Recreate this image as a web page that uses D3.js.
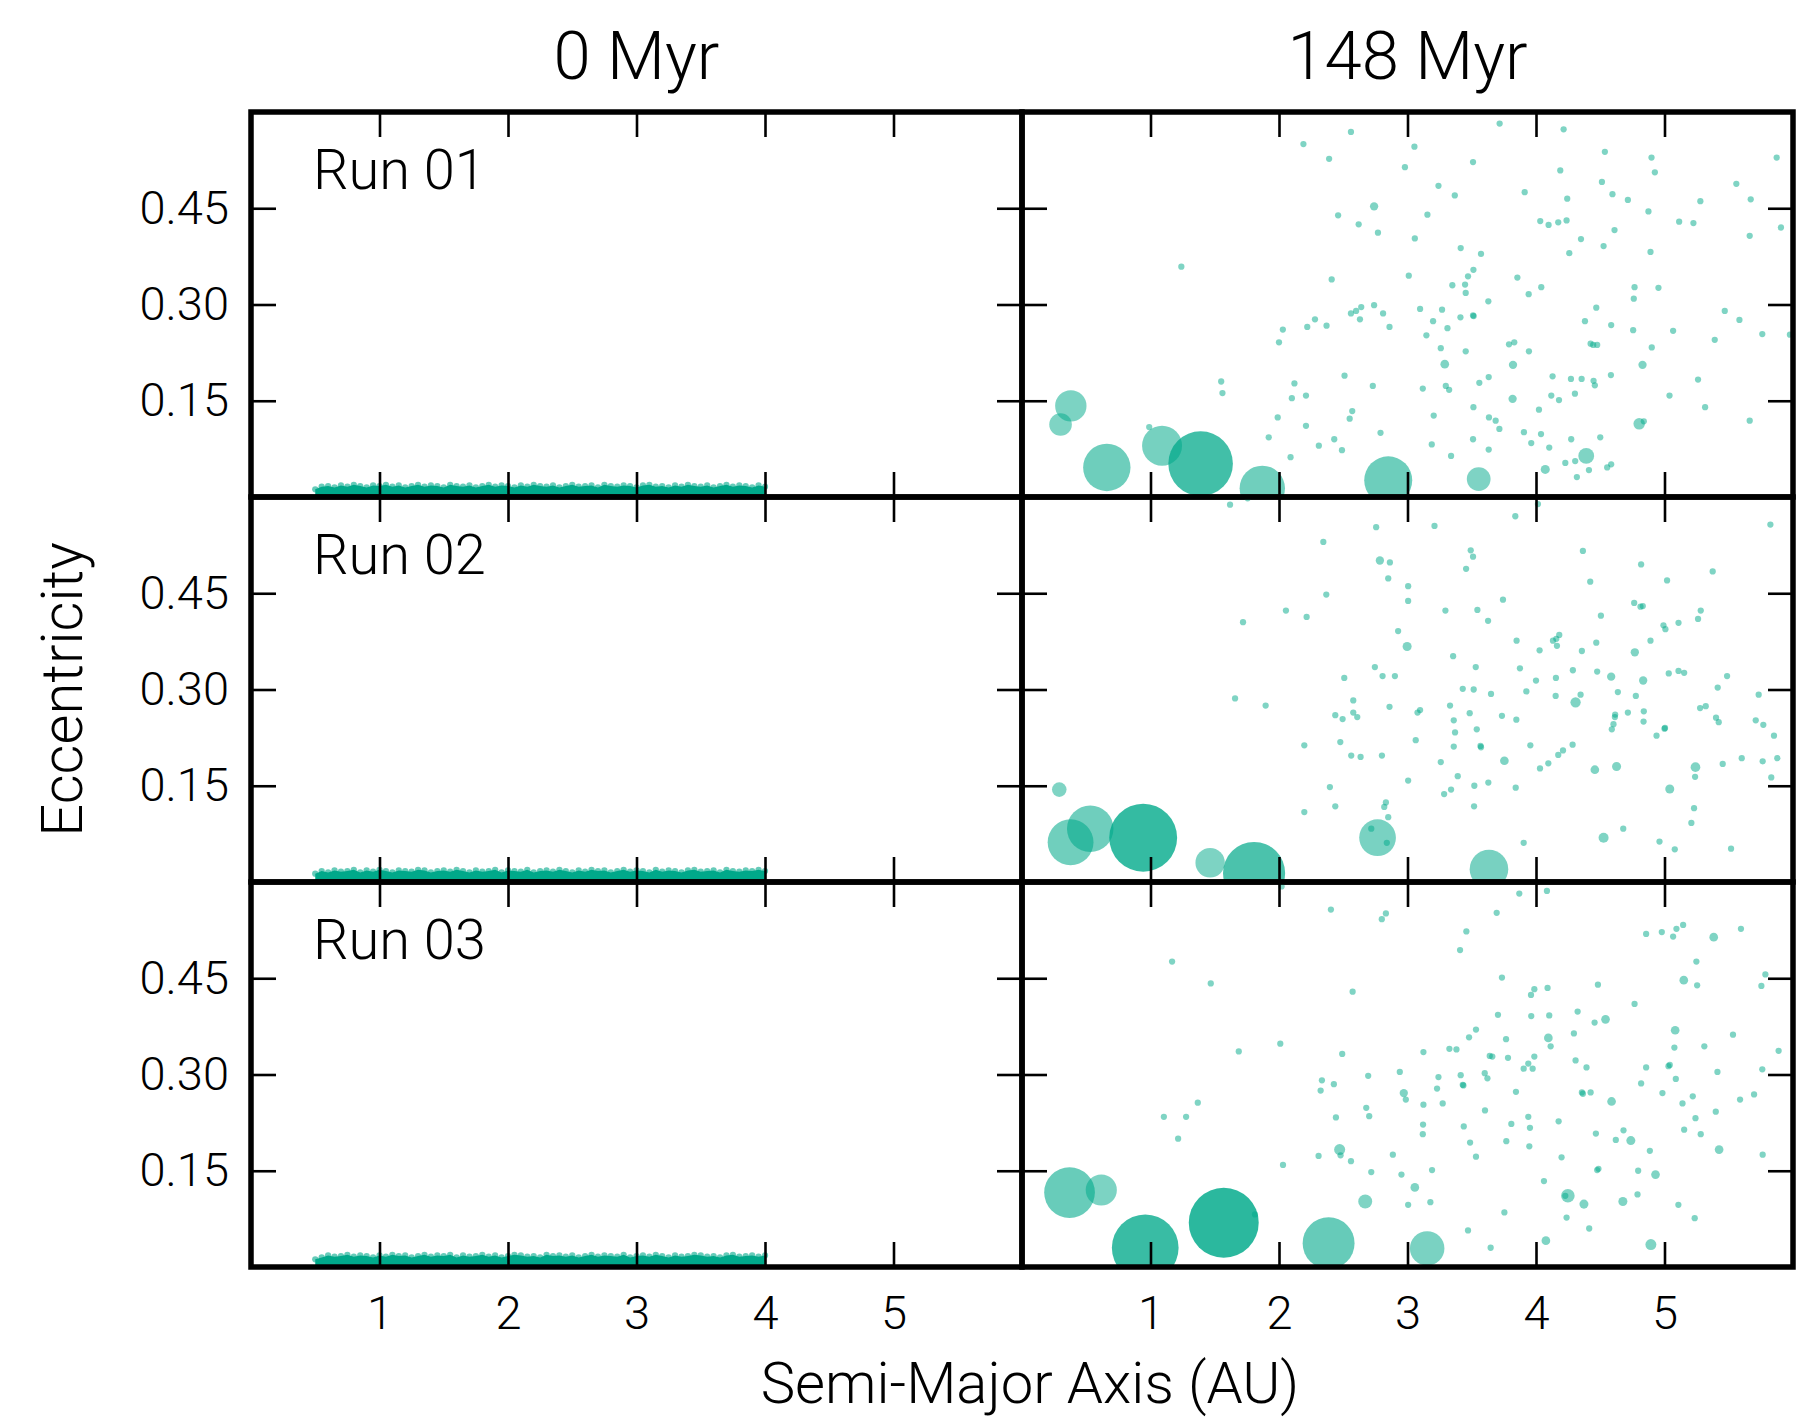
<!DOCTYPE html>
<html>
<head>
<meta charset="utf-8">
<script src="https://cdn.jsdelivr.net/npm/d3@7"></script>
<style>
  html, body { margin: 0; padding: 0; background: #fff; }
  svg text { font-family: Roboto, "Liberation Sans", sans-serif; font-weight: 300; fill: #000; }
</style>
</head>
<body>
<svg id="chart" width="1815" height="1419"></svg>
<script>
// ---- axis settings ----
const timeLabels = ["0 Myr", "148 Myr"];
const runLabels = ["Run 01", "Run 02", "Run 03"];
const aDomain = [0, 6];
const eDomain = [0, 0.6];
const aTicks = [1, 2, 3, 4, 5];
const eTicks = [0.15, 0.30, 0.45];

// ---- initial planetesimal disk (0 Myr): upper envelope of eccentricity along a ----
const initialA = [0.50,0.55,0.60,0.65,0.70,0.75,0.80,0.85,0.90,0.95,1.00,1.05,1.10,1.15,1.20,1.25,1.30,1.35,1.40,1.45,
  1.50,1.55,1.60,1.65,1.70,1.75,1.80,1.85,1.90,1.95,2.00,2.05,2.10,2.15,2.20,2.25,2.30,2.35,2.40,2.45,
  2.50,2.55,2.60,2.65,2.70,2.75,2.80,2.85,2.90,2.95,3.00,3.05,3.10,3.15,3.20,3.25,3.30,3.35,3.40,3.45,
  3.50,3.55,3.60,3.65,3.70,3.75,3.80,3.85,3.90,3.95,4.00];
const run01InitialE = [0.012,0.016,0.017,0.015,0.018,0.016,0.019,0.017,0.015,0.018,
  0.017,0.019,0.016,0.018,0.015,0.017,0.019,0.016,0.018,0.017,
  0.015,0.019,0.017,0.016,0.018,0.015,0.017,0.019,0.016,0.018,
  0.017,0.015,0.018,0.016,0.019,0.017,0.016,0.018,0.015,0.017,
  0.019,0.016,0.017,0.018,0.015,0.019,0.017,0.016,0.018,0.017,
  0.015,0.018,0.019,0.016,0.017,0.015,0.018,0.016,0.019,0.017,
  0.016,0.018,0.015,0.017,0.019,0.016,0.018,0.017,0.015,0.018,0.016];
const run02InitialE = [0.013,0.017,0.015,0.018,0.016,0.017,0.019,0.015,0.018,0.016,
  0.019,0.017,0.015,0.018,0.017,0.016,0.019,0.018,0.015,0.017,
  0.018,0.016,0.019,0.017,0.015,0.018,0.016,0.017,0.019,0.015,
  0.018,0.017,0.016,0.019,0.015,0.017,0.018,0.016,0.019,0.017,
  0.015,0.018,0.016,0.019,0.017,0.018,0.015,0.017,0.019,0.016,
  0.018,0.017,0.015,0.019,0.016,0.018,0.017,0.015,0.018,0.019,
  0.016,0.017,0.018,0.015,0.019,0.017,0.016,0.018,0.017,0.019,0.017];
const run03InitialE = [0.012,0.015,0.018,0.016,0.017,0.019,0.016,0.018,0.017,0.015,
  0.018,0.016,0.019,0.017,0.018,0.015,0.017,0.019,0.016,0.018,
  0.017,0.019,0.015,0.018,0.016,0.017,0.019,0.016,0.018,0.015,
  0.017,0.019,0.018,0.016,0.017,0.015,0.019,0.017,0.018,0.016,
  0.018,0.015,0.017,0.019,0.016,0.018,0.017,0.016,0.019,0.015,
  0.017,0.018,0.016,0.019,0.017,0.015,0.018,0.016,0.017,0.019,
  0.018,0.016,0.017,0.015,0.018,0.019,0.016,0.017,0.018,0.016,0.018];

// ---- bodies at 148 Myr ----
// mass of a single planetesimal (Earth masses)
const planetesimalMass = 0.0125;

// embryos / grown bodies: [a (AU), e, mass (Earth masses)]
const run01Embryos = [
  [0.38,0.142,0.314],[0.30,0.113,0.163],[0.66,0.046,0.716],[1.09,0.080,0.51],[1.39,0.052,1.33],
  [1.87,0.0135,0.657],[2.85,0.026,0.735],
  [2.74,0.453,0.022],[3.29,0.207,0.024],[3.821,0.206,0.022],[4.829,0.206,0.022],[3.818,0.153,0.022],
  [4.803,0.114,0.042],[4.391,0.064,0.08],[4.072,0.043,0.026],[3.554,0.028,0.18]
];
const run02Embryos = [
  [0.29,0.144,0.068],[0.531,0.083,0.69],[0.378,0.062,0.67],[0.943,0.069,1.47],[1.464,0.030,0.275],
  [1.806,0.014,1.23],[2.767,0.069,0.43],[3.634,0.020,0.475],
  [2.785,0.501,0.022],[2.997,0.367,0.026],[4.769,0.358,0.022],[4.585,0.320,0.022],[4.834,0.314,0.022],
  [4.308,0.280,0.034],[3.754,0.189,0.024],[4.458,0.175,0.024],[4.627,0.180,0.026],[5.241,0.179,0.03],
  [5.041,0.145,0.026],[4.526,0.069,0.032]
];
const run03Embryos = [
  [0.37,0.116,0.82],[0.617,0.120,0.31],[0.959,0.030,1.42],[1.57,0.069,1.56],[2.386,0.037,0.86],
  [3.153,0.029,0.38],
  [2.472,0.183,0.039],[2.971,0.271,0.022],[2.671,0.102,0.062],[5.383,0.514,0.024],[5.15,0.447,0.024],
  [4.541,0.386,0.024],[5.083,0.369,0.024],[4.096,0.357,0.024],[4.588,0.258,0.024],[4.738,0.197,0.026],
  [5.425,0.183,0.024],[4.93,0.144,0.024],[3.057,0.124,0.024],[4.248,0.111,0.059],[4.373,0.098,0.026],
  [4.676,0.102,0.026],[4.077,0.041,0.024],[4.894,0.035,0.038]
];

// surviving planetesimals: [a (AU), e]
const run01Planetesimals = [
  [2.56,0.569],[2.19,0.550],[2.39,0.527],[2.98,0.514],[2.46,0.439],[2.62,0.425],[2.77,0.412],[1.24,0.359],
  [2.41,0.339],[3.01,0.345],[2.74,0.299],[2.64,0.296],[2.60,0.290],[2.56,0.286],[2.63,0.277],[2.81,0.286],
  [2.28,0.277],[2.22,0.265],[2.37,0.267],[2.86,0.265],[2.03,0.261],[2.00,0.241],[2.51,0.189],[1.55,0.180],
  [2.73,0.173],[2.12,0.177],[1.56,0.162],[2.10,0.154],[2.21,0.158],[2.57,0.134],[2.55,0.122],[1.99,0.124],
  [2.21,0.111],[0.99,0.109],[2.79,0.100],[1.92,0.093],[2.43,0.090],[2.31,0.080],[2.49,0.073],[2.09,0.062],
  [3.717,0.582],[4.215,0.573],[3.054,0.546],[3.51,0.522],[4.536,0.538],[4.899,0.529],[5.873,0.529],[4.189,0.509],
  [4.925,0.506],[4.513,0.491],[3.241,0.485],[3.368,0.470],[3.912,0.475],[4.243,0.465],[4.595,0.472],[4.715,0.463],
  [5.559,0.488],[5.671,0.464],[5.279,0.461],[4.875,0.445],[3.155,0.440],[4.033,0.430],[4.098,0.424],[4.173,0.428],
  [4.238,0.431],[4.611,0.416],[5.114,0.429],[5.225,0.427],[5.906,0.420],[5.663,0.407],[3.057,0.403],[4.35,0.402],
  [4.526,0.391],[3.414,0.388],[3.572,0.379],[4.259,0.380],[4.891,0.382],[3.513,0.354],[3.471,0.344],[3.349,0.330],
  [3.448,0.331],[3.453,0.318],[3.855,0.342],[4.041,0.327],[3.943,0.316],[4.767,0.327],[4.953,0.326],[4.761,0.309],
  [3.629,0.305],[4.469,0.295],[5.469,0.290],[5.583,0.276],[3.098,0.293],[3.269,0.292],[3.510,0.283],[3.515,0.282],
  [3.412,0.280],[3.199,0.274],[3.311,0.263],[3.147,0.252],[4.381,0.274],[4.585,0.268],[4.756,0.260],[5.067,0.259],
  [5.761,0.254],[5.976,0.253],[5.391,0.245],[3.79,0.238],[3.831,0.241],[3.945,0.227],[4.425,0.239],[4.445,0.237],
  [4.476,0.237],[4.901,0.233],[3.259,0.232],[3.453,0.227],[3.632,0.187],[3.559,0.178],[4.129,0.188],[4.272,0.184],
  [4.355,0.184],[4.448,0.181],[4.458,0.174],[4.583,0.190],[3.119,0.169],[3.298,0.173],[3.324,0.167],[5.261,0.183],
  [5.039,0.158],[4.119,0.158],[4.179,0.151],[4.303,0.161],[3.513,0.140],[4.023,0.136],[5.316,0.140],[3.204,0.127],
  [3.634,0.124],[3.686,0.119],[3.715,0.106],[4.839,0.118],[5.663,0.119],[3.906,0.101],[4.039,0.098],[3.963,0.084],
  [4.274,0.090],[4.50,0.093],[3.189,0.082],[3.51,0.090],[3.632,0.074],[4.103,0.077],[3.339,0.064],[4.228,0.053],
  [4.305,0.056],[4.585,0.051],[4.554,0.046],[4.412,0.042],[4.318,0.031]
];
const run02Planetesimals = [
  [1.619,0.588],[1.756,0.598],[2.756,0.553],[2.345,0.530],[2.863,0.498],[2.85,0.473],[3.005,0.461],[3.005,0.438],
  [2.368,0.448],[2.054,0.423],[2.215,0.413],[1.72,0.405],[2.927,0.391],[2.746,0.335],[2.806,0.321],[2.902,0.321],
  [2.508,0.318],[1.658,0.286],[1.896,0.275],[2.578,0.283],[2.578,0.264],[2.609,0.257],[2.438,0.260],[2.495,0.254],
  [2.86,0.273],[2.197,0.213],[2.477,0.218],[2.562,0.197],[2.635,0.195],[2.801,0.197],[3.005,0.158],[2.396,0.148],
  [2.438,0.118],[2.832,0.124],[2.819,0.117],[2.197,0.109],[2.85,0.101],[2.718,0.083],[2.839,0.061],
  [4.015,0.589],[3.839,0.570],[3.21,0.555],[5.824,0.557],[3.492,0.517],[3.51,0.507],[3.456,0.488],[4.365,0.516],
  [4.818,0.495],[5.375,0.484],[4.422,0.468],[5.02,0.470],[3.743,0.440],[3.295,0.423],[3.544,0.424],[3.627,0.407],
  [4.505,0.415],[4.764,0.435],[4.813,0.429],[4.831,0.430],[5.282,0.423],[5.261,0.410],[4.992,0.400],[5.007,0.394],
  [5.109,0.404],[4.891,0.376],[3.849,0.376],[4.132,0.376],[4.158,0.379],[4.181,0.385],[4.163,0.368],[4.028,0.361],
  [4.357,0.360],[4.469,0.373],[3.355,0.352],[3.531,0.335],[3.875,0.333],[4.287,0.330],[4.476,0.328],[5.033,0.325],
  [5.109,0.329],[5.153,0.326],[5.487,0.321],[4.155,0.318],[4.00,0.314],[3.43,0.301],[3.515,0.300],[3.65,0.293],
  [3.925,0.297],[4.153,0.290],[4.347,0.292],[4.637,0.296],[4.777,0.290],[5.414,0.303],[5.733,0.292],[3.331,0.275],
  [3.078,0.264],[3.098,0.268],[3.484,0.263],[3.735,0.259],[3.847,0.253],[3.36,0.252],[4.616,0.261],[4.614,0.257],
  [4.603,0.246],[4.59,0.238],[4.715,0.264],[4.839,0.266],[4.837,0.250],[5.277,0.271],[5.321,0.274],[5.401,0.256],
  [5.422,0.249],[5.71,0.252],[5.769,0.245],[5.852,0.228],[5.0,0.239],[5.004,0.240],[4.938,0.228],[3.37,0.233],
  [3.539,0.238],[3.064,0.221],[3.36,0.211],[3.568,0.212],[3.572,0.210],[3.956,0.213],[4.285,0.214],[4.21,0.205],
  [4.173,0.198],[3.259,0.187],[4.096,0.185],[4.031,0.177],[5.238,0.164],[5.453,0.184],[5.601,0.193],[5.764,0.188],
  [5.878,0.193],[5.831,0.163],[3.391,0.165],[3.52,0.150],[3.629,0.155],[3.339,0.144],[3.285,0.137],[3.842,0.147],
  [3.518,0.118],[5.23,0.115],[5.209,0.092],[4.679,0.083],[3.904,0.061],[4.961,0.063],[5.08,0.051],[5.518,0.052]
];
const run03Planetesimals = [
  [2.02,0.593],[2.404,0.557],[2.832,0.551],[2.80,0.542],[1.168,0.476],[1.469,0.442],[2.573,0.429],[2.01,0.348],
  [1.687,0.336],[2.492,0.332],[2.94,0.304],[2.694,0.298],[2.334,0.291],[2.427,0.285],[2.324,0.275],[2.987,0.261],
  [1.368,0.256],[1.104,0.234],[1.277,0.234],[2.679,0.248],[2.702,0.235],[2.443,0.233],[1.215,0.200],[2.479,0.174],
  [2.308,0.173],[2.56,0.165],[2.886,0.175],[2.031,0.159],[2.718,0.148],[2.953,0.144],[3.005,0.097],[1.813,0.082],
  [4.085,0.586],[3.87,0.582],[3.694,0.552],[3.458,0.523],[3.409,0.494],[4.857,0.519],[4.979,0.522],[5.067,0.515],
  [5.093,0.527],[5.145,0.533],[5.595,0.527],[5.248,0.476],[5.785,0.456],[5.254,0.439],[5.754,0.438],[3.735,0.451],
  [3.987,0.433],[3.961,0.424],[4.09,0.435],[4.482,0.440],[4.767,0.410],[3.704,0.393],[3.963,0.391],[4.103,0.392],
  [4.324,0.398],[4.456,0.381],[5.533,0.362],[3.533,0.370],[3.479,0.358],[3.767,0.355],[4.114,0.344],[4.295,0.364],
  [3.124,0.335],[3.326,0.340],[3.381,0.339],[3.64,0.329],[3.66,0.328],[3.782,0.326],[3.987,0.328],[3.94,0.317],
  [3.904,0.309],[3.974,0.309],[4.308,0.322],[4.393,0.311],[5.077,0.342],[5.31,0.344],[5.888,0.337],[5.761,0.308],
  [5.412,0.304],[4.857,0.311],[5.031,0.313],[5.041,0.315],[5.088,0.293],[4.818,0.286],[3.241,0.296],[3.414,0.299],
  [3.601,0.302],[3.622,0.294],[3.435,0.283],[3.430,0.284],[3.23,0.278],[3.844,0.273],[4.357,0.272],[4.365,0.270],
  [4.425,0.272],[4.984,0.271],[5.22,0.266],[5.14,0.255],[5.588,0.261],[5.697,0.269],[3.124,0.253],[3.274,0.255],
  [3.603,0.244],[5.399,0.242],[5.241,0.232],[3.94,0.234],[3.121,0.222],[3.438,0.219],[3.808,0.223],[3.953,0.217],
  [4.176,0.227],[3.119,0.207],[4.466,0.208],[4.681,0.213],[5.153,0.214],[5.282,0.207],[3.487,0.194],[3.769,0.196],
  [3.948,0.188],[4.621,0.198],[4.886,0.181],[5.764,0.175],[3.533,0.172],[4.199,0.171],[3.191,0.151],[4.476,0.151],
  [4.486,0.153],[4.795,0.150],[4.062,0.134],[3.178,0.101],[3.754,0.085],[4.228,0.111],[4.79,0.113],[5.108,0.097],
  [5.235,0.076],[4.238,0.077],[4.414,0.060],[3.471,0.057],[3.647,0.030]
];

const initialByRun = [run01InitialE, run02InitialE, run03InitialE];
const embryosByRun = [run01Embryos, run02Embryos, run03Embryos];
const planetesimalsByRun = [run01Planetesimals, run02Planetesimals, run03Planetesimals];

// ---- layout ----
const plotLeft = 251, plotTop = 112;
const colW = 771, rowH = 385;
const teal = "#00a98a";

const svg = d3.select("#chart");

const x = d3.scaleLinear().domain(aDomain).range([0, colW]);
const y = d3.scaleLinear().domain(eDomain).range([rowH, 0]);
// marker area proportional to mass
const radius = d3.scaleSqrt().domain([0, 1]).range([0, 28]);
// heavier bodies drawn more opaque
const alpha = d3.scalePow().exponent(2).domain([0, 1.6]).range([0.5, 0.85]).clamp(true);

const band = d3.area()
  .x(d => x(d.a))
  .y0(y(0))
  .y1(d => y(d.e));

runLabels.forEach((runLabel, i) => {
  timeLabels.forEach((timeLabel, j) => {
    const g = svg.append("g")
      .attr("transform", `translate(${plotLeft + j * colW},${plotTop + i * rowH})`);

    const clipId = `clip-${i}-${j}`;
    g.append("clipPath").attr("id", clipId)
      .append("rect").attr("width", colW).attr("height", rowH);
    const plot = g.append("g").attr("clip-path", `url(#${clipId})`);

    if (j === 0) {
      const disk = initialA.map((a, k) => ({ a, e: initialByRun[i][k] }));
      plot.append("path").datum(disk)
        .attr("d", band)
        .attr("fill", teal);
      plot.selectAll("circle.disk").data(disk).join("circle")
        .attr("class", "disk")
        .attr("cx", d => x(d.a))
        .attr("cy", d => y(d.e))
        .attr("r", radius(planetesimalMass))
        .attr("fill", teal)
        .attr("fill-opacity", 0.6);
    } else {
      const bodies = planetesimalsByRun[i].map(([a, e]) => ({ a, e, m: planetesimalMass }))
        .concat(embryosByRun[i].map(([a, e, m]) => ({ a, e, m })));
      plot.selectAll("circle.body").data(bodies).join("circle")
        .attr("class", "body")
        .attr("cx", d => x(d.a))
        .attr("cy", d => y(d.e))
        .attr("r", d => radius(d.m))
        .attr("fill", teal)
        .attr("fill-opacity", d => alpha(d.m));
    }

    // inward-pointing ticks on all four sides
    const tickLen = -25;
    const bottomAxis = g.append("g").attr("transform", `translate(0,${rowH})`)
      .call(d3.axisBottom(x).tickValues(aTicks).tickSize(tickLen).tickPadding(29)
        .tickFormat(i === runLabels.length - 1 ? d3.format("d") : ""));
    const topAxis = g.append("g")
      .call(d3.axisTop(x).tickValues(aTicks).tickSize(tickLen).tickFormat(""));
    const leftAxis = g.append("g")
      .call(d3.axisLeft(y).tickValues(eTicks).tickSize(tickLen).tickPadding(22)
        .tickFormat(j === 0 ? d3.format(".2f") : ""));
    const rightAxis = g.append("g").attr("transform", `translate(${colW},0)`)
      .call(d3.axisRight(y).tickValues(eTicks).tickSize(tickLen).tickFormat(""));

    [bottomAxis, topAxis, leftAxis, rightAxis].forEach(ax => {
      ax.select(".domain").remove();
      ax.attr("font-size", 47).attr("font-family", null);
      ax.selectAll(".tick line").attr("stroke", "#000").attr("stroke-width", 2.6);
    });

    // panel frame
    g.append("rect")
      .attr("width", colW).attr("height", rowH)
      .attr("fill", "none").attr("stroke", "#000").attr("stroke-width", 5.5);

    if (j === 0) {
      g.append("text")
        .attr("x", 62).attr("y", 77)
        .attr("font-size", 56)
        .text(runLabel);
    }
  });
});

// column titles
timeLabels.forEach((t, j) => {
  svg.append("text")
    .attr("x", plotLeft + j * colW + colW / 2)
    .attr("y", 79)
    .attr("text-anchor", "middle")
    .attr("font-size", 67)
    .text(t);
});

// axis titles
svg.append("text")
  .attr("x", 1030).attr("y", 1403)
  .attr("text-anchor", "middle")
  .attr("font-size", 58)
  .text("Semi-Major Axis (AU)");

svg.append("text")
  .attr("transform", `translate(82,${plotTop + 1.5 * rowH}) rotate(-90)`)
  .attr("text-anchor", "middle")
  .attr("font-size", 58)
  .text("Eccentricity");
</script>
</body>
</html>
